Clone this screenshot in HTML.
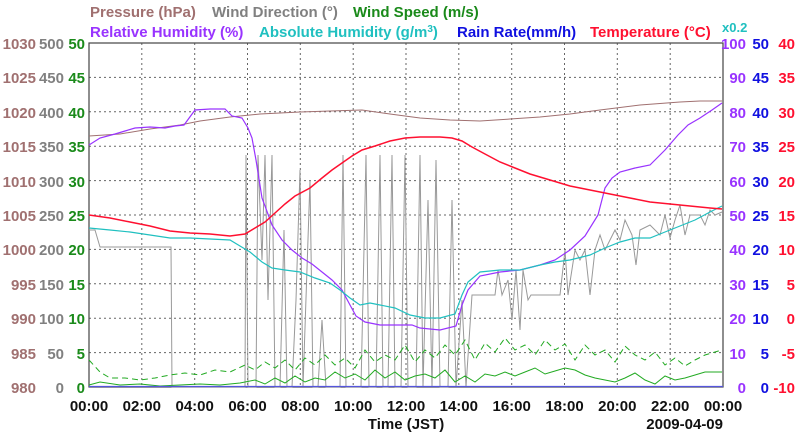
<!DOCTYPE html>
<html><head><meta charset="utf-8"><style>
body{margin:0;background:#fff;width:800px;height:434px;overflow:hidden}
text{font-family:"Liberation Sans",sans-serif;font-weight:bold}
</style></head><body>
<svg width="800" height="434" xmlns="http://www.w3.org/2000/svg">
<g font-size="15">
<text x="90" y="17" fill="#a07070">Pressure (hPa)</text>
<text x="212" y="17" fill="#808080">Wind Direction (°)</text>
<text x="353" y="17" fill="#1a8a1a">Wind Speed (m/s)</text>
<text x="90" y="37" fill="#9933ff">Relative Humidity (%)</text>
<text x="259" y="37" fill="#20c0c0">Absolute Humidity (g/m<tspan font-size="10" dy="-5">3</tspan><tspan dy="5">)</tspan></text>
<text x="457" y="37" fill="#1010e0">Rain Rate(mm/h)</text>
<text x="590" y="37" fill="#ff1030">Temperature (°C)</text>
<text x="722" y="32" fill="#20c0c0" font-size="13">x0.2</text>
</g>
<g stroke="#666" stroke-dasharray="2,3" stroke-width="1">
<line x1="89" y1="77.4" x2="723" y2="77.4"/><line x1="89" y1="111.8" x2="723" y2="111.8"/><line x1="89" y1="146.2" x2="723" y2="146.2"/><line x1="89" y1="180.6" x2="723" y2="180.6"/><line x1="89" y1="215" x2="723" y2="215"/><line x1="89" y1="249.4" x2="723" y2="249.4"/><line x1="89" y1="283.8" x2="723" y2="283.8"/><line x1="89" y1="318.2" x2="723" y2="318.2"/><line x1="89" y1="352.6" x2="723" y2="352.6"/>
<line x1="141.8" y1="43" x2="141.8" y2="387"/><line x1="194.7" y1="43" x2="194.7" y2="387"/><line x1="247.5" y1="43" x2="247.5" y2="387"/><line x1="300.3" y1="43" x2="300.3" y2="387"/><line x1="353.2" y1="43" x2="353.2" y2="387"/><line x1="406" y1="43" x2="406" y2="387"/><line x1="458.8" y1="43" x2="458.8" y2="387"/><line x1="511.7" y1="43" x2="511.7" y2="387"/><line x1="564.5" y1="43" x2="564.5" y2="387"/><line x1="617.3" y1="43" x2="617.3" y2="387"/><line x1="670.2" y1="43" x2="670.2" y2="387"/>
</g>
<g id="ticks" stroke="#444" stroke-width="1"></g>
<rect x="89" y="43" width="634" height="344" fill="none" stroke="#444" stroke-width="1.2"/>
<polyline fill="none" stroke="#999" stroke-width="1" points="89,230 95,230 100,247 171,247 172,387 245,387 246,155 248,387 256,387 258,155 262,260 265,155 268,300 272,155 275,387 280,387 284,230 287,387 292,387 296,300 300,170 303,387 310,180 313,387 318,387 322,320 326,387 340,387 343,155 346,387 358,387 361,387 366,155 369,387 376,387 380,155 383,387 388,387 392,155 395,387 401,387 405,155 408,387 416,387 420,155 423,387 428,200 432,387 436,160 440,387 448,387 452,200 456,387 462,300 466,387 472,295 495,295 498,270 502,295 508,280 512,320 516,270 520,330 523,270 528,300 531,295 540,295 545,295 560,295 565,250 568,295 575,250 580,260 585,250 590,295 595,250 600,235 605,250 610,240 615,230 620,240 625,220 632,235 636,265 640,230 650,225 660,235 665,215 670,238 675,220 680,205 685,235 690,215 700,215 705,225 710,210 715,215 722,212"/>
<polyline fill="none" stroke="#a07070" stroke-width="1" points="89,136 120,134 150,129 180,125 200,121 230,117 260,114 300,112 330,111 362,110 390,114 420,118 450,120 480,121 510,119 540,117 570,114 600,110 640,105 680,102 700,101 722,101"/>
<polyline fill="none" stroke="#9933ff" stroke-width="1.2" points="89,145 100,138 115,134 125,131 135,128 150,127 165,128 175,126 184,125 195,110 210,109 225,109 232,116 242,118 248,128 252,138 256,160 262,198 272,225 282,240 292,250 302,258 312,264 322,272 332,280 342,290 350,305 356,316 365,322 380,325 400,325 412,325 420,328 440,330 456,326 462,305 468,290 480,276 500,272 520,270 540,265 555,260 570,250 585,236 598,215 605,188 612,178 620,172 635,168 650,165 665,150 678,135 688,125 700,118 712,110 722,103"/>
<polyline fill="none" stroke="#20c0c0" stroke-width="1.2" points="89,228 110,230 130,232 150,235 170,238 190,238 210,239 230,240 240,246 250,252 262,262 272,268 285,270 300,272 315,278 330,283 340,290 350,298 360,305 370,303 380,305 395,308 410,315 425,318 440,318 455,314 462,295 468,282 480,272 500,270 520,270 540,265 555,262 570,260 590,255 605,248 620,242 635,238 650,238 665,232 680,226 695,220 710,212 722,206"/>
<polyline fill="none" stroke="#ff1030" stroke-width="1.5" points="89,215 110,218 130,222 150,226 170,231 190,233 210,234 230,236 245,234 255,228 265,222 275,213 285,204 295,196 310,188 322,178 332,170 342,163 352,156 362,150 375,146 390,141 405,138 420,137 440,137 452,138 462,141 472,147 485,154 500,162 515,168 530,174 550,180 570,186 590,190 610,194 630,198 650,202 670,204 690,206 710,208 722,209"/>
<polyline fill="none" stroke="#22aa22" stroke-width="1" stroke-dasharray="6,4" points="89,360 100,372 110,378 125,378 140,380 155,378 170,375 185,373 200,375 215,370 230,372 245,365 255,370 265,362 275,368 285,360 295,370 305,358 315,365 325,355 335,365 345,358 355,368 365,350 375,362 385,355 395,360 405,345 415,362 425,350 435,358 445,345 455,355 465,340 475,360 485,343 495,352 505,338 515,350 525,345 535,355 545,340 555,350 565,344 575,360 585,345 595,355 605,350 615,362 625,346 635,355 645,360 655,352 665,365 675,358 685,366 695,360 705,355 715,352 722,350"/>
<polyline fill="none" stroke="#22aa22" stroke-width="1" points="89,385 100,382 120,385 140,384 160,386 180,385 200,384 220,385 240,383 255,380 265,384 275,378 285,383 295,376 305,382 315,378 325,380 335,372 345,378 355,374 365,380 375,370 385,378 395,372 405,380 415,376 425,374 435,378 445,370 455,382 465,376 475,382 485,374 495,376 505,372 515,376 525,372 535,368 545,374 555,371 565,368 575,370 585,375 595,378 605,380 615,382 625,378 635,373 645,380 655,384 665,376 675,380 685,378 695,375 705,372 722,372"/>
<line x1="89" y1="386.5" x2="723" y2="386.5" stroke="#5555dd" stroke-width="1.2"/>
<g font-size="15" text-anchor="end">
<g fill="#a07070"><text x="36" y="49">1030</text><text x="36" y="83">1025</text><text x="36" y="118">1020</text><text x="36" y="152">1015</text><text x="36" y="187">1010</text><text x="36" y="221">1005</text><text x="36" y="255">1000</text><text x="36" y="290">995</text><text x="36" y="324">990</text><text x="36" y="359">985</text><text x="36" y="393">980</text></g>
<g fill="#808080"><text x="64" y="49">500</text><text x="64" y="83">450</text><text x="64" y="118">400</text><text x="64" y="152">350</text><text x="64" y="187">300</text><text x="64" y="221">250</text><text x="64" y="255">200</text><text x="64" y="290">150</text><text x="64" y="324">100</text><text x="64" y="359">50</text><text x="64" y="393">0</text></g>
<g fill="#1a8a1a"><text x="85" y="49">50</text><text x="85" y="83">45</text><text x="85" y="118">40</text><text x="85" y="152">35</text><text x="85" y="187">30</text><text x="85" y="221">25</text><text x="85" y="255">20</text><text x="85" y="290">15</text><text x="85" y="324">10</text><text x="85" y="359">5</text><text x="85" y="393">0</text></g>
</g>
<g font-size="15" text-anchor="end">
<g fill="#9933ff"><text x="746" y="49">100</text><text x="746" y="83">90</text><text x="746" y="118">80</text><text x="746" y="152">70</text><text x="746" y="187">60</text><text x="746" y="221">50</text><text x="746" y="255">40</text><text x="746" y="290">30</text><text x="746" y="324">20</text><text x="746" y="359">10</text><text x="746" y="393">0</text></g>
<g fill="#1010e0"><text x="769" y="49">50</text><text x="769" y="83">45</text><text x="769" y="118">40</text><text x="769" y="152">35</text><text x="769" y="187">30</text><text x="769" y="221">25</text><text x="769" y="255">20</text><text x="769" y="290">15</text><text x="769" y="324">10</text><text x="769" y="359">5</text><text x="769" y="393">0</text></g>
<g fill="#ff1030"><text x="795" y="49">40</text><text x="795" y="83">35</text><text x="795" y="118">30</text><text x="795" y="152">25</text><text x="795" y="187">20</text><text x="795" y="221">15</text><text x="795" y="255">10</text><text x="795" y="290">5</text><text x="795" y="324">0</text><text x="795" y="359">-5</text><text x="795" y="393">-10</text></g>
</g>
<g font-size="15" text-anchor="middle" fill="#111">
<text x="89" y="411">00:00</text><text x="141.8" y="411">02:00</text><text x="194.7" y="411">04:00</text><text x="247.5" y="411">06:00</text><text x="300.3" y="411">08:00</text><text x="353.2" y="411">10:00</text><text x="406" y="411">12:00</text><text x="458.8" y="411">14:00</text><text x="511.7" y="411">16:00</text><text x="564.5" y="411">18:00</text><text x="617.3" y="411">20:00</text><text x="670.2" y="411">22:00</text><text x="723" y="411">00:00</text>
<text x="406" y="429">Time (JST)</text>
<text x="723" y="429" text-anchor="end">2009-04-09</text>
</g>
<script>
var g=document.getElementById('ticks'),s='';
for(var i=0;i<=50;i++){var y=43+i*6.88,L=(i%5==0)?10:5;
s+='<line x1="89" y1="'+y+'" x2="'+(89+L)+'" y2="'+y+'"/><line x1="'+(723-L)+'" y1="'+y+'" x2="723" y2="'+y+'"/>';}
for(var h=0;h<=24;h++){var x=89+h*26.417,L=(h%2==0)?10:5;
s+='<line x1="'+x+'" y1="'+(387-L)+'" x2="'+x+'" y2="387"/><line x1="'+x+'" y1="43" x2="'+x+'" y2="'+(43+L)+'"/>';}
g.innerHTML=s;
</script>
</svg>
</body></html>
